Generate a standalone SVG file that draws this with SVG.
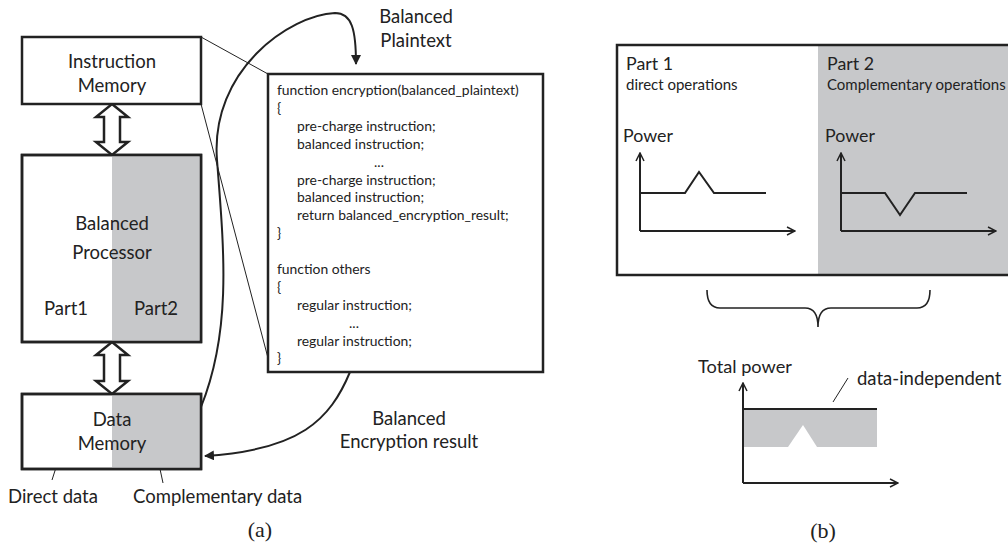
<svg xmlns="http://www.w3.org/2000/svg" width="1008" height="544" viewBox="0 0 1008 544">
<defs>
<style>
.t{font-family:Lato,"Liberation Sans",sans-serif;fill:#222}
.lbl{font-size:18.5px}
.code{font-size:13.9px}
.cap{font-family:"Liberation Serif",serif;font-size:22px;fill:#222}
.box{fill:#fff;stroke:#222;stroke-width:2.5}
.gray{fill:#c7c8ca}
.thin{fill:none;stroke:#222;stroke-width:1}
.conn{fill:none;stroke:#222;stroke-width:2}
.ax{fill:none;stroke:#222;stroke-width:2}
.dbl{fill:#fff;stroke:#222;stroke-width:2.5;stroke-linejoin:miter}
</style>
<marker id="ah" viewBox="0 0 10 10" refX="9" refY="5" markerWidth="5" markerHeight="5" orient="auto" markerUnits="strokeWidth">
<path d="M0,0 L10,5 L0,10 Z" fill="#222"/>
</marker>
<marker id="open" viewBox="0 0 10 10" refX="9" refY="5" markerWidth="5" markerHeight="5" orient="auto" markerUnits="strokeWidth">
<path d="M1,1 L9,5 L1,9" fill="none" stroke="#222" stroke-width="1.5"/>
</marker>
</defs>

<g id="connectors">
<line class="thin" x1="201" y1="37" x2="268" y2="74"/>
<line class="thin" x1="201" y1="104" x2="268" y2="358"/>
<path class="conn" d="M201,407 C232,330 224,250 217,160 C210,70 290,15 335,13 C352,13 356,30 356,64" marker-end="url(#ah)"/>
<path class="conn" d="M350,372 C330,420 300,450 205,456" marker-end="url(#ah)"/>
<path id="arrow-im-bp" class="dbl" d="M112,104 L128,117 L120,117 L120,142 L128,142 L112,155 L96,142 L104,142 L104,117 L96,117 Z"/>
<path id="arrow-bp-dm" class="dbl" d="M112,342 L128,355 L120,355 L120,381 L128,381 L112,394 L96,381 L104,381 L104,355 L96,355 Z"/>
<line class="thin" x1="60" y1="455" x2="52" y2="480"/>
<line class="thin" x1="157" y1="455" x2="163" y2="483"/>
</g>

<g id="instruction-memory">
<rect class="box" x="22" y="37" width="179" height="67"/>
<text class="t lbl" x="112" y="68" text-anchor="middle">Instruction</text>
<text class="t lbl" x="112" y="92" text-anchor="middle">Memory</text>
</g>

<g id="balanced-processor">
<rect class="box" x="22" y="155" width="179" height="187"/>
<rect class="gray" x="112" y="156.25" width="87.75" height="184.5"/>
<rect x="22" y="155" width="179" height="187" fill="none" stroke="#222" stroke-width="2.5"/>
<text class="t lbl" x="112" y="230" text-anchor="middle">Balanced</text>
<text class="t lbl" x="112" y="259" text-anchor="middle">Processor</text>
<text class="t lbl" x="66" y="315" text-anchor="middle">Part1</text>
<text class="t lbl" x="156" y="315" text-anchor="middle">Part2</text>
</g>

<g id="data-memory">
<rect class="box" x="22" y="394" width="179" height="75"/>
<rect class="gray" x="112" y="395.25" width="87.75" height="72.5"/>
<rect x="22" y="394" width="179" height="75" fill="none" stroke="#222" stroke-width="2.5"/>
<text class="t lbl" x="112" y="426" text-anchor="middle">Data</text>
<text class="t lbl" x="112" y="450" text-anchor="middle">Memory</text>
</g>

<g id="data-labels">
<text class="t lbl" x="8" y="503">Direct data</text>
<text class="t lbl" x="133" y="503">Complementary data</text>
</g>

<g id="code-box">
<rect class="box" x="268" y="74" width="275" height="298"/>
<text class="t code" x="277" y="95">function encryption(balanced_plaintext)</text>
<text class="t code" x="277" y="113">{</text>
<text class="t code" x="297" y="131">pre-charge instruction;</text>
<text class="t code" x="297" y="149">balanced instruction;</text>
<text class="t code" x="379" y="167" text-anchor="middle">...</text>
<text class="t code" x="297" y="185">pre-charge instruction;</text>
<text class="t code" x="297" y="202">balanced instruction;</text>
<text class="t code" x="297" y="220">return balanced_encryption_result;</text>
<text class="t code" x="277" y="238">}</text>
<text class="t code" x="277" y="274">function others</text>
<text class="t code" x="277" y="292">{</text>
<text class="t code" x="297" y="310">regular instruction;</text>
<text class="t code" x="354" y="328" text-anchor="middle">...</text>
<text class="t code" x="297" y="346">regular instruction;</text>
<text class="t code" x="277" y="363">}</text>
</g>

<g id="label-plaintext">
<text class="t lbl" x="416" y="23" text-anchor="middle">Balanced</text>
<text class="t lbl" x="416" y="47" text-anchor="middle">Plaintext</text>
</g>

<g id="label-result">
<text class="t lbl" x="409" y="425" text-anchor="middle">Balanced</text>
<text class="t lbl" x="409" y="448" text-anchor="middle">Encryption result</text>
</g>

<text class="cap" x="260" y="537" text-anchor="middle">(a)</text>

<g id="parts-box">
<rect x="617" y="45" width="400" height="230" fill="#fff"/>
<rect class="gray" x="818" y="45" width="200" height="230"/>
<path d="M1010,45 L617,45 L617,275 L1010,275" fill="none" stroke="#222" stroke-width="2.5"/>
<text class="t" x="626" y="70" font-size="17.8">Part 1</text>
<text class="t" x="626" y="90" font-size="15">direct operations</text>
<text class="t" x="827" y="70" font-size="17.8">Part 2</text>
<text class="t" x="827" y="90" font-size="15">Complementary operations</text>
<text class="t" x="623" y="142" font-size="17.8">Power</text>
<text class="t" x="825" y="142" font-size="17.8">Power</text>
<path class="ax" d="M640,231 L640,153" marker-end="url(#open)"/>
<path class="ax" d="M640,231 L795,231" marker-end="url(#open)"/>
<polyline class="ax" points="640,193 685,193 699,172 714,193 766,193"/>
<path class="ax" d="M841,231 L841,153" marker-end="url(#open)"/>
<path class="ax" d="M841,231 L996,231" marker-end="url(#open)"/>
<polyline class="ax" points="841,193 885,193 900,215 915,193 967,193"/>
</g>

<path id="brace" d="M707,290 Q707,308 720,308 L805,308 Q818,308 818,327 Q818,308 831,308 L917,308 Q930,308 930,290" fill="none" stroke="#222" stroke-width="1.6"/>

<g id="total-power">
<text class="t" x="698" y="373" font-size="18.2">Total power</text>
<rect class="gray" x="743" y="409" width="134" height="38"/>
<polygon points="788,447 803,425 817,447" fill="#fff"/>
<line x1="743" y1="409" x2="877" y2="409" stroke="#222" stroke-width="2"/>
<path class="ax" d="M743,483 L743,383" marker-end="url(#open)"/>
<path class="ax" d="M743,483 L898,483" marker-end="url(#open)"/>
<line class="thin" x1="833" y1="402" x2="848" y2="378"/>
<text class="t" x="857" y="385" font-size="18.5">data-independent</text>
</g>

<text class="cap" x="823" y="538" text-anchor="middle">(b)</text>
</svg>
